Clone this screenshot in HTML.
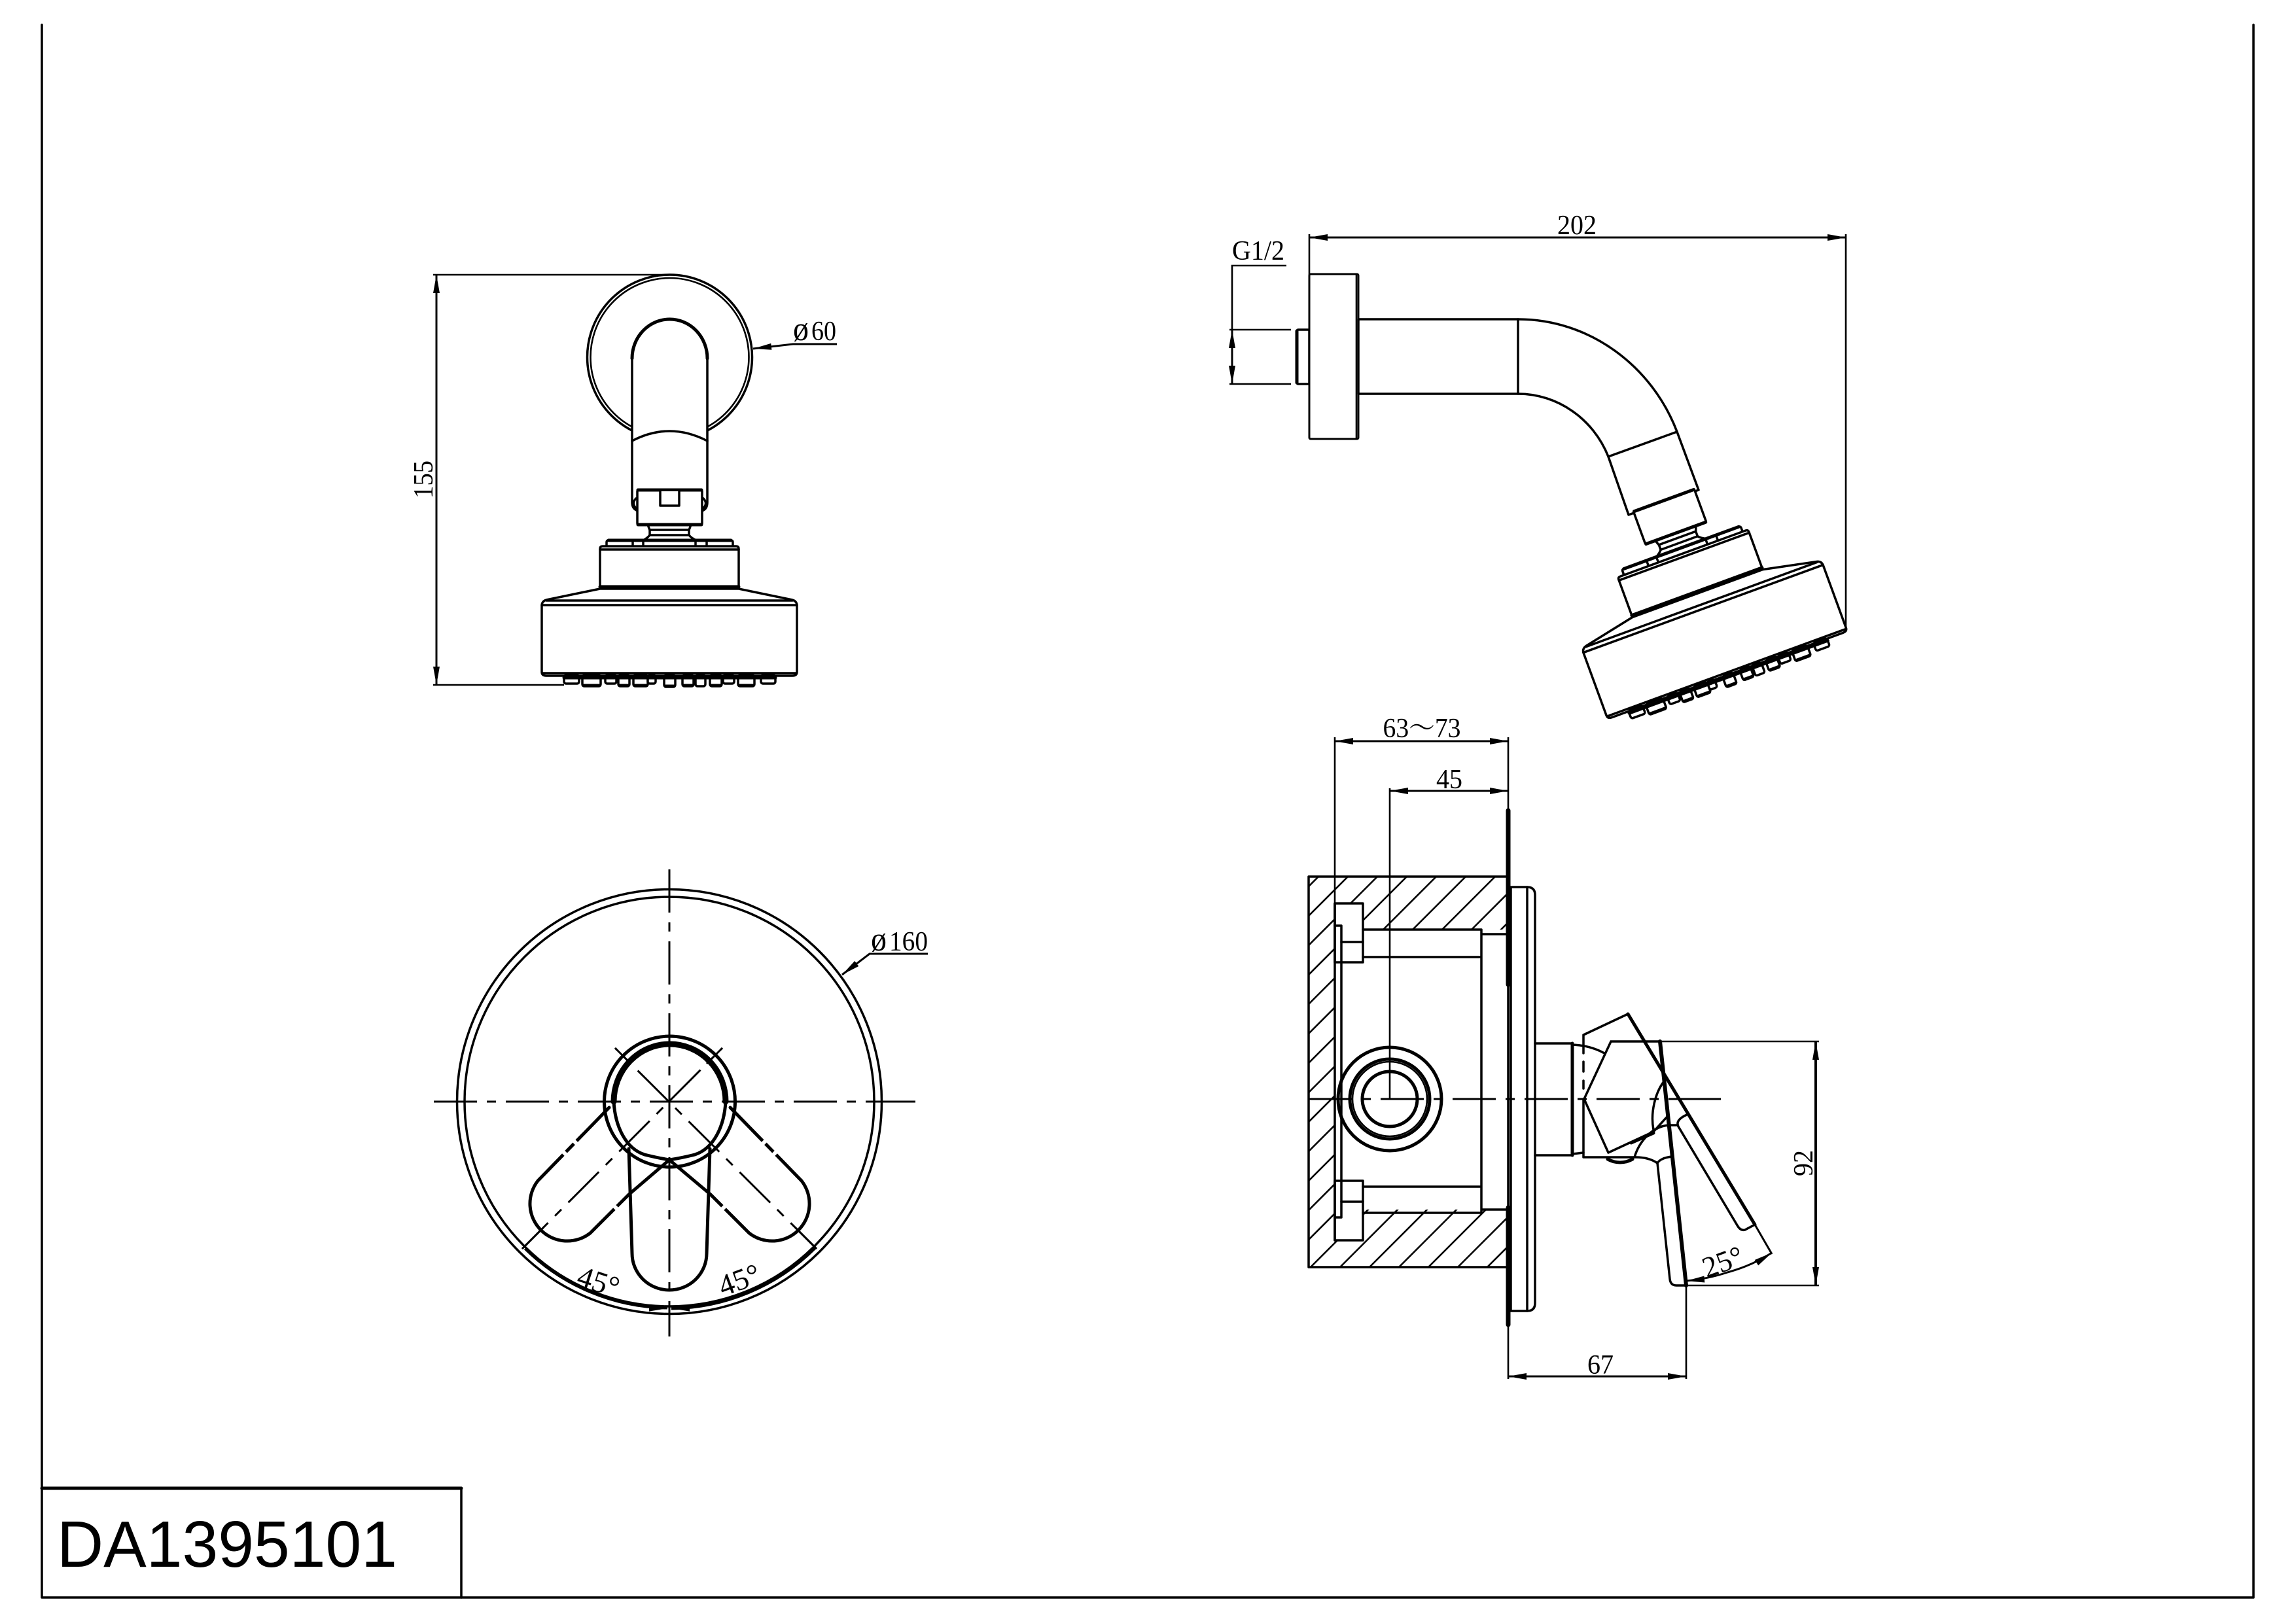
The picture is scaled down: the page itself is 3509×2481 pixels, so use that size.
<!DOCTYPE html>
<html><head><meta charset="utf-8"><style>
html,body{margin:0;padding:0;background:#fff}
svg{display:block}
text{font-family:"Liberation Serif","Noto Serif CJK SC",serif;font-size:42px;fill:#000;stroke:none}
.p{font-size:52px}
.o{fill:none;stroke:#000;stroke-width:3.5;stroke-linejoin:round;stroke-linecap:round}
.w{fill:#fff;stroke:#000;stroke-width:3.5;stroke-linejoin:round}
.t{fill:none;stroke:#000;stroke-width:6;stroke-linecap:round;stroke-linejoin:round}
.k{fill:none;stroke:#000;stroke-width:5;stroke-linecap:round;stroke-linejoin:round}
.d{fill:none;stroke:#000;stroke-width:2.6}
.a{fill:none;stroke:#000;stroke-width:3;marker-start:url(#ar);marker-end:url(#ar)}
.e{fill:none;stroke:#000;stroke-width:3;marker-end:url(#ar)}
.c{fill:none;stroke:#000;stroke-width:3;stroke-dasharray:66 15 14 15}
.s{fill:none;stroke:#000;stroke-width:3}
</style></head><body>
<svg xmlns="http://www.w3.org/2000/svg" width="3509" height="2481" viewBox="0 0 3509 2481">
<defs>
<marker id="ar" markerUnits="userSpaceOnUse" markerWidth="32" markerHeight="14" refX="29" refY="7" orient="auto-start-reverse"><path d="M1,2 L29,7 L1,12 Z" fill="#000"/></marker>
<clipPath id="hc"><path clip-rule="evenodd" d="M2000,1340H2303V1937H2000Z M2040,1381H2083V1421H2303V1849H2083V1896H2040Z"/></clipPath>
<g id="head">
<path class="o" d="M990,802 Q992,808 993,810 L993,818 Q990,822 983,826 M1056,802 Q1054,808 1053,810 L1053,818 Q1056,822 1064,826"/>
<path class="o" d="M993,810H1053 M993,818H1053"/>
<rect class="w" x="974" y="749" width="99" height="53" rx="2"/>
<path class="k" d="M975,749H1072 M975,802H1072"/>
<path class="o" d="M927,835V829Q927,826 930,826H1117Q1120,826 1120,829V835"/>
<path class="k" d="M930,826H1117"/>
<path class="o" d="M967,826V835 M983,826V835 M1063,826V835 M1080,826V835"/>
<path class="w" d="M917,898V839Q917,835 921,835H1125Q1129,835 1129,839V898"/>
<path class="o" d="M917,840H1129"/>
<path class="k" d="M917,897H1129"/>
<path class="w" d="M917,900L835,917Q828,919 828,926V1027Q828,1033 835,1033H1211Q1218,1033 1218,1027V926Q1218,919 1211,917L1129,900Z"/>
<path class="o" d="M835,918H1211 M828,925H1218 M829,1029H1217"/>
<g class="w">
<rect class="w" x="862" y="1032" width="23" height="13" rx="3"/>
<rect class="w" x="890" y="1032" width="28" height="17" rx="3"/>
<rect class="w" x="925" y="1032" width="17" height="13" rx="3"/>
<rect class="w" x="945" y="1032" width="17" height="17" rx="3"/>
<rect class="w" x="968" y="1032" width="22" height="17" rx="3"/>
<rect class="w" x="990" y="1032" width="12" height="13" rx="3"/>
<rect class="w" x="1015" y="1032" width="17" height="18" rx="3"/>
<rect class="w" x="1043" y="1032" width="17" height="17" rx="3"/>
<rect class="w" x="1063" y="1032" width="15" height="17" rx="3"/>
<rect class="w" x="1085" y="1032" width="18" height="17" rx="3"/>
<rect class="w" x="1105" y="1032" width="17" height="13" rx="3"/>
<rect class="w" x="1128" y="1032" width="25" height="17" rx="3"/>
<rect class="w" x="1163" y="1032" width="22" height="13" rx="3"/>
</g>
<path class="k" d="M862,1036H1185 M892,1048H916 M947,1048H960 M970,1048H988 M1017,1049H1030 M1045,1048H1058 M1087,1048H1101 M1130,1048H1151"/>
</g>
</defs>
<rect width="3509" height="2481" fill="#fff"/>

<!-- frame -->
<path class="o" d="M64,38V2442H3444V38" stroke-linecap="butt"/>
<path class="o" d="M705,2275V2442"/><path class="k" d="M64,2275H705"/>
<text x="87" y="2395" textLength="520" lengthAdjust="spacingAndGlyphs" style="font-family:'Liberation Sans',sans-serif;font-size:100px">DA1395101</text>

<!-- VIEW A: top-left -->
<path class="d" d="M662,420H1023 M662,1047H862"/>
<path class="a" d="M667,420V1047"/>
<text transform="translate(661,733) rotate(-90)" text-anchor="middle" textLength="58" lengthAdjust="spacingAndGlyphs">155</text>
<circle class="o" cx="1023.5" cy="546" r="126"/>
<circle class="o" cx="1023.5" cy="546" r="121" style="stroke-width:2.6"/>
<path class="w" d="M966,768V548A57.5,60 0 0 1 1081,548V768Q1081,778 1073,781H975Q966,778 966,768Z"/>
<path class="o" d="M966,548A57.5,60 0 0 1 1081,548" style="stroke-width:5"/>
<path class="o" d="M966,674Q1023,644 1081,674"/>
<path class="o" d="M972,762Q964,770 974,779 M1075,762Q1083,770 1073,779"/>
<use href="#head"/>
<path class="w" d="M1009,751V773H1038V751"/>
<path class="e" d="M1279,526H1212L1151,533"/>
<text class="p" x="1212" y="520" textLength="24" lengthAdjust="spacingAndGlyphs">ø</text>
<text x="1240" y="520" textLength="38" lengthAdjust="spacingAndGlyphs">60</text>

<!-- VIEW B: top-right -->
<path class="d" d="M2001,358V420 M2821,358V966"/>
<path class="a" d="M2001,363H2821"/>
<text x="2410" y="358" text-anchor="middle" textLength="60" lengthAdjust="spacingAndGlyphs">202</text>
<text x="1883" y="397" textLength="80" lengthAdjust="spacingAndGlyphs">G1/2</text>
<path class="d" d="M1966,406H1883V587 M1879,504H1973 M1879,587H1973"/>
<path class="e" d="M1883,545V504"/><path class="e" d="M1883,545V587"/>
<rect class="w" x="1982" y="504" width="19" height="83" rx="2"/>
<path class="k" d="M1982,506V585"/>
<rect class="w" x="2001" y="419" width="75" height="252" rx="2" style="stroke-width:3"/>
<path class="o" d="M2073,419V671" style="stroke-width:2.6"/>
<path class="w" d="M2076,488H2320C2430,488 2525,560 2563,660L2596,749L2489,787L2458,698C2435,640 2380,602 2320,602H2076Z"/>
<path class="o" d="M2320,488V602 M2458,698L2563,660"/>
<use href="#head" transform="translate(2457 1099) rotate(-20.1) translate(-828 -1033)"/>

<!-- VIEW C: bottom-left -->
<circle class="o" cx="1023" cy="1684" r="324.5"/>
<circle class="o" cx="1023" cy="1684" r="313"/>
<path class="e" d="M802,1909A316,316 0 0 0 1020,2000" style="stroke-width:3"/>
<path class="e" d="M1245,1908A316,316 0 0 1 1026,2000" style="stroke-width:5"/>
<path class="c" d="M1023,1329V2043"/>
<path class="s" d="M1023,2005V2043 M1023,1329V1375"/>
<path class="c" d="M663,1684H1399"/>
<path class="s" d="M663,1684H705 M1360,1684H1399"/>
<path class="c" d="M798,1909L1104,1602" style="stroke-dashoffset:10"/>
<path class="c" d="M1248,1909L940,1602" style="stroke-dashoffset:10"/>
<path class="s" d="M940,1602L964,1626 M1104,1602L1080,1626 M798,1909L830,1877 M1248,1909L1216,1877"/>
<circle class="k" cx="1023.5" cy="1684" r="100"/>
<path class="o" d="M938,1684A85.5,88 0 0 1 1109,1684" style="stroke-width:9"/>
<path class="k" d="M931,1693L822,1805A57,57 0 0 0 902,1885L961,1826L1023,1773"/>
<path class="k" d="M1116,1693L1225,1805A57,57 0 0 1 1145,1885L1086,1826L1023,1773"/>
<path d="M873,1740L883,1750 M857,1757L867,1767 M938,1843L948,1853 M1164,1750L1174,1740 M1180,1767L1190,1757 M1099,1853L1109,1843" stroke="#fff" stroke-width="6" fill="none"/>
<path class="t" d="M938,1684C940,1720 955,1755 985,1765Q1005,1770 1023,1773Q1042,1770 1062,1765C1092,1755 1107,1720 1109,1684" style="stroke-width:5"/>
<path class="k" d="M961,1756L966,1916A57,56 0 0 0 1080,1916L1085,1756"/>
<path class="e" d="M1418,1458H1329L1287,1490"/>
<text class="p" x="1331" y="1453" textLength="24" lengthAdjust="spacingAndGlyphs">ø</text>
<text x="1359" y="1453" textLength="59" lengthAdjust="spacingAndGlyphs">160</text>
<text transform="translate(910,1974) rotate(18)" text-anchor="middle" style="font-size:46px">45°</text>
<text transform="translate(1135,1971) rotate(-20)" text-anchor="middle" style="font-size:46px">45°</text>

<!-- VIEW D: bottom-right -->
<g clip-path="url(#hc)"><path class="d" d="M2055,1300L1355,2000 M2100,1300L1400,2000 M2145,1300L1445,2000 M2190,1300L1490,2000 M2235,1300L1535,2000 M2280,1300L1580,2000 M2325,1300L1625,2000 M2370,1300L1670,2000 M2415,1300L1715,2000 M2460,1300L1760,2000 M2505,1300L1805,2000 M2550,1300L1850,2000 M2595,1300L1895,2000 M2640,1300L1940,2000 M2685,1300L1985,2000 M2730,1300L2030,2000 M2775,1300L2075,2000 M2820,1300L2120,2000 M2865,1300L2165,2000 M2910,1300L2210,2000"/></g>
<path class="o" d="M2303,1340H2000V1937H2303"/>
<path class="o" d="M2040,1381V1896"/>
<rect class="o" x="2040" y="1381" width="43" height="90"/>
<rect class="o" x="2040" y="1805" width="43" height="91"/>
<path class="o" d="M2050,1440H2083 M2050,1837H2083"/>
<path class="o" d="M2040,1415H2050V1861H2040"/>
<path class="o" d="M2083,1421H2264V1854H2083 M2083,1463H2264 M2083,1814H2264 M2264,1428H2303 M2264,1849H2303"/>
<path class="w" d="M2309,1356H2334Q2346,1356 2346,1368V1992Q2346,2004 2334,2004H2309Z"/>
<path class="o" d="M2334,1356V2004"/>
<path class="o" d="M2305,1239V2025"/>
<path class="t" style="stroke-width:7" d="M2305,1239V1505 M2305,1846V2025"/>
<path class="c" d="M2000,1680H2630"/>
<path class="s" d="M2590,1680H2630"/>
<circle class="k" cx="2124" cy="1680" r="79"/>
<circle class="k" cx="2124" cy="1680" r="61"/>
<circle class="o" cx="2124" cy="1680" r="57" style="stroke-width:2.6"/>
<circle class="k" cx="2124" cy="1680" r="42"/>
<path class="d" d="M2040,1127V1381 M2305,1127V1240 M2124,1205V1680 M2305,2025V2108 M2577,1965V2108 M2537,1592H2780 M2577,1965H2780"/>
<path class="a" d="M2040,1133H2305"/><text x="2173" y="1127" text-anchor="middle" textLength="119" lengthAdjust="spacingAndGlyphs">63～73</text>
<path class="a" d="M2124,1209H2305"/><text x="2215" y="1205" text-anchor="middle" textLength="40" lengthAdjust="spacingAndGlyphs">45</text>
<path class="a" d="M2305,2104H2577"/><text x="2446" y="2100" text-anchor="middle" textLength="40" lengthAdjust="spacingAndGlyphs">67</text>
<path class="a" style="stroke-width:4" d="M2775,1592V1965"/><text transform="translate(2770,1778) rotate(-90)" text-anchor="middle" textLength="40" lengthAdjust="spacingAndGlyphs">92</text>
<path class="o" d="M2346,1595H2402 M2346,1766H2402"/>
<path class="t" style="stroke-width:5" d="M2403,1595V1766"/>
<path class="o" d="M2403,1597Q2430,1598 2452,1610 M2403,1764L2420,1762"/>
<path class="o" d="M2420,1582L2488,1550 M2420,1582V1610 M2420,1623V1638 M2420,1652V1664 M2420,1680V1769H2500Q2520,1769 2533,1778"/>
<path class="t" style="stroke-width:5" d="M2488,1550L2682,1872"/>
<path class="d" d="M2682,1872L2708,1917" style="stroke-width:3"/>
<path class="o" d="M2462,1592L2421,1680L2458,1762L2527,1730 M2462,1592H2537"/>
<path class="t" d="M2537,1592L2577,1965"/>
<path class="o" d="M2533,1778L2552,1955Q2553,1965 2562,1965H2577"/>
<path class="o" d="M2533,1778Q2538,1770 2555,1768"/>
<path class="o" d="M2565,1722L2655,1873Q2660,1882 2667,1880L2682,1872 M2565,1722Q2560,1712 2578,1704"/>
<path class="o" d="M2527,1727C2522,1700 2530,1670 2543,1653"/>
<path class="o" d="M2498,1769C2505,1745 2525,1722 2550,1720H2563 M2527,1730L2547,1708"/>
<path class="k" d="M2457,1772Q2476,1782 2495,1772 M2493,1747L2527,1732"/>
<path class="e" d="M2640,1945Q2677,1935 2708,1915"/><path class="e" d="M2640,1945Q2610,1955 2577,1958"/>
<text transform="translate(2638,1943) rotate(-20)" text-anchor="middle" style="font-size:45px">25°</text>
</svg>
</body></html>
